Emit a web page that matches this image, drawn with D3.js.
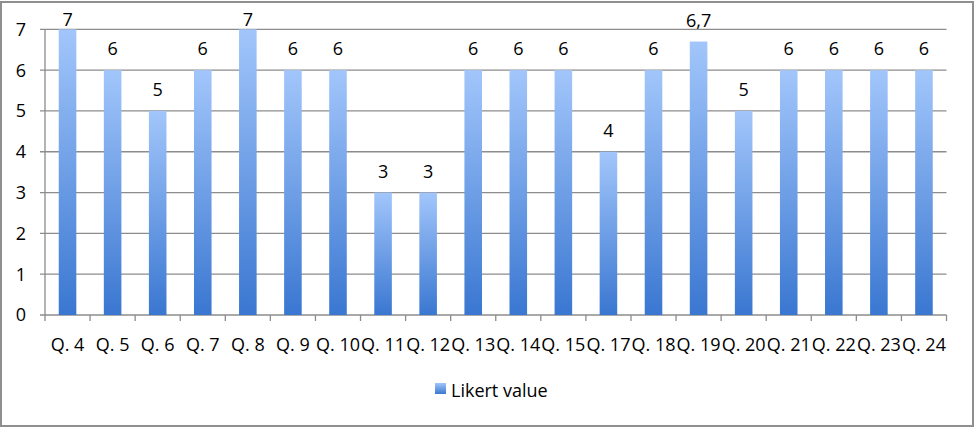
<!DOCTYPE html>
<html>
<head>
<meta charset="utf-8">
<script src="https://cdn.jsdelivr.net/npm/d3@7"></script>
<style>
  body { margin: 0; background: #fff; }
  svg { display: block; font-family: "Open Sans", sans-serif; }
</style>
</head>
<body>
<script>
// chart data
var questions = ["Q. 4","Q. 5","Q. 6","Q. 7","Q. 8","Q. 9","Q. 10","Q. 11","Q. 12","Q. 13",
                 "Q. 14","Q. 15","Q. 17","Q. 18","Q. 19","Q. 20","Q. 21","Q. 22","Q. 23","Q. 24"]
var likert = [7,6,5,6,7,6,6,3,3,6,6,6,4,6,6.7,5,6,6,6,6]
var yTicks = [0,1,2,3,4,5,6,7]
var seriesName = "Likert value"

svg_w = 975
svg_h = 428

var svg = d3.select("body").append("svg")
    .attr("width", svg_w)
    .attr("height", svg_h)

// gradient for the bars
var defs = svg.append("defs")
var grad = defs.append("linearGradient")
    .attr("id", "barGrad")
    .attr("x1", 0).attr("y1", 0).attr("x2", 0).attr("y2", 1)
grad.append("stop").attr("offset", "0%").attr("stop-color", "#a2c6fb")
grad.append("stop").attr("offset", "100%").attr("stop-color", "#3a77d1")

// outer frame
svg.append("rect")
    .attr("x", 1).attr("y", 2)
    .attr("width", 972).attr("height", 424)
    .attr("fill", "none")
    .attr("stroke", "#8f8f8f")
    .attr("stroke-width", 2)

var plot = {left: 45, right: 946.5, top: 29.3, bottom: 315}

var xscale = d3.scaleBand().domain(questions).range([plot.left, plot.right]).paddingInner(0.61).paddingOuter(0.305)
var xcat = d3.scaleBand().domain(questions).range([plot.left, plot.right])
var yscale = d3.scaleLinear().domain([0,7]).range([plot.bottom, plot.top])

// gridlines + y ticks
svg.append("g")
    .selectAll("line")
    .data(yTicks)
    .enter()
    .append("line")
    .attr("x1", plot.left - 5)
    .attr("x2", plot.right)
    .attr("y1", d => yscale(d))
    .attr("y2", d => yscale(d))
    .attr("stroke", "#8c8c8c")
    .attr("stroke-width", 1.3)

svg.append("g")
    .selectAll("text")
    .data(yTicks)
    .enter()
    .append("text")
    .attr("x", 26)
    .attr("y", d => yscale(d))
    .attr("dy", "0.36em")
    .attr("text-anchor", "end")
    .attr("font-size", 18)
    .attr("fill", "#000")
    .text(d => d)

// y axis line
svg.append("line")
    .attr("x1", plot.left).attr("x2", plot.left)
    .attr("y1", plot.top).attr("y2", plot.bottom)
    .attr("stroke", "#8c8c8c").attr("stroke-width", 1.3)

// x ticks between categories
var xTickPos = questions.map(q => xcat(q)).concat([plot.right])
svg.append("g")
    .selectAll("line")
    .data(xTickPos)
    .enter()
    .append("line")
    .attr("x1", d => d).attr("x2", d => d)
    .attr("y1", plot.bottom).attr("y2", plot.bottom + 6)
    .attr("stroke", "#8c8c8c").attr("stroke-width", 1.3)

// bars
svg.append("g")
    .selectAll("rect")
    .data(likert)
    .enter()
    .append("rect")
    .attr("x", (d,i) => xscale(questions[i]))
    .attr("y", d => yscale(d))
    .attr("width", xscale.bandwidth())
    .attr("height", d => plot.bottom - yscale(d))
    .attr("fill", "url(#barGrad)")

// value labels
svg.append("g")
    .selectAll("text")
    .data(likert)
    .enter()
    .append("text")
    .attr("x", (d,i) => xscale(questions[i]) + xscale.bandwidth()/2)
    .attr("y", d => Math.max(yscale(d) - 15, 26))
    .attr("text-anchor", "middle")
    .attr("font-size", 18)
    .attr("fill", "#000")
    .text(d => String(d).replace(".", ","))

// category labels
svg.append("g")
    .selectAll("text")
    .data(questions)
    .enter()
    .append("text")
    .attr("x", d => xcat(d) + xcat.bandwidth()/2)
    .attr("y", 351)
    .attr("text-anchor", "middle")
    .attr("font-size", 18)
    .attr("fill", "#000")
    .text(d => d)

// legend
var legend = svg.append("g")
legend.append("rect")
    .attr("x", 435).attr("y", 383)
    .attr("width", 11).attr("height", 11)
    .attr("fill", "url(#barGrad)")
legend.append("text")
    .attr("x", 451).attr("y", 397)
    .attr("font-size", 18)
    .attr("fill", "#000")
    .text(seriesName)
</script>
</body>
</html>
